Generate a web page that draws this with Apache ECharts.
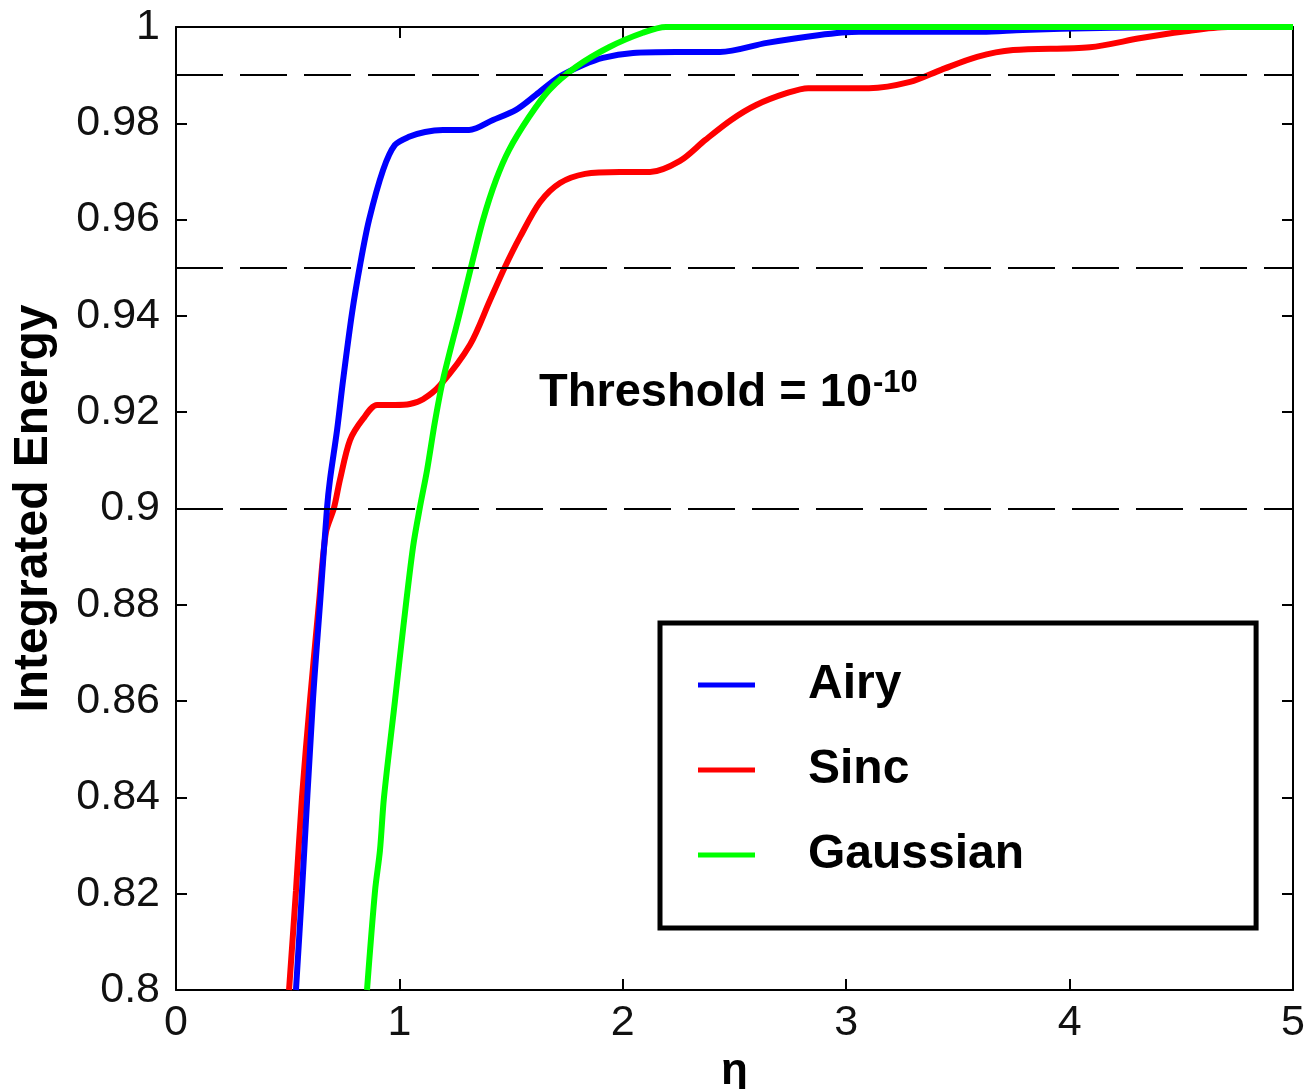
<!DOCTYPE html>
<html><head><meta charset="utf-8">
<script src="https://cdn.jsdelivr.net/npm/echarts@6/dist/echarts.min.js"></script>
<style>html,body{margin:0;padding:0;background:#fff;overflow:hidden}#c{width:1304px;height:1089px}</style>
</head><body><div id="c"></div>
<script>
// Data
const seriesNames = ['Airy', 'Sinc', 'Gaussian'];
const airyEta = [0.537,0.564,0.613,0.645,0.676,0.689,0.721,0.748,0.788,0.824,0.864,0.927,0.980,1.043,1.115,1.195,1.312,1.419,1.522,1.611,1.714,1.822,1.911,2.046,2.238,2.435,2.645,2.874,3.057,3.608,3.791,4.136,4.458,5.0];
const airyVal = [0.800,0.8206,0.8602,0.8804,0.9001,0.9059,0.9163,0.9267,0.9406,0.9506,0.9599,0.9703,0.9755,0.9772,0.9782,0.9786,0.9786,0.9807,0.9828,0.9859,0.9896,0.9921,0.9936,0.9946,0.9948,0.9948,0.9967,0.9983,0.9990,0.9990,0.9994,0.9998,1.0,1.0];
const sincEta = [0.506,0.537,0.564,0.600,0.640,0.671,0.707,0.734,0.779,0.837,0.900,0.980,1.047,1.106,1.182,1.316,1.406,1.473,1.540,1.629,1.719,1.831,1.987,2.122,2.256,2.368,2.485,2.597,2.736,2.830,3.102,3.286,3.425,3.586,3.747,4.091,4.320,4.503,4.709,5.0];
const sincVal = [0.800,0.8206,0.8401,0.8602,0.8804,0.8950,0.9001,0.9060,0.9142,0.9186,0.9215,0.9215,0.9217,0.9227,0.9256,0.9340,0.9433,0.9502,0.9564,0.9636,0.9676,0.9695,0.9699,0.9699,0.9722,0.9765,0.9807,0.9838,0.9863,0.9873,0.9873,0.9886,0.9911,0.9938,0.9952,0.9958,0.9977,0.9990,1.0,1.0];
const gaussEta = [0.855,0.891,0.913,0.931,0.980,1.016,1.061,1.092,1.124,1.159,1.195,1.267,1.320,1.374,1.432,1.491,1.580,1.670,1.790,1.938,2.090,2.193,5.0];
const gaussVal = [0.800,0.8206,0.829,0.840,0.860,0.8748,0.892,0.9003,0.908,0.918,0.9267,0.940,0.950,0.9599,0.9682,0.9745,0.9813,0.9869,0.9917,0.9958,0.9988,1.0,1.0];
const thresholdLines = [0.99, 0.95, 0.9];
const colors = ['#0000ff', '#ff0000', '#00ff00'];

const zip = (a, b) => a.map((v, i) => [v, b[i]]);
const FONT = 'Liberation Sans, Arial, sans-serif';
const chart = echarts.init(document.getElementById('c'), null, {renderer: 'canvas', width: 1304, height: 1089});

const axisLine = {show: true, onZero: false, lineStyle: {color: '#000', width: 2}};
const tick = {show: true, inside: true, length: 11, lineStyle: {color: '#000', width: 2}};

function lineSeries(name, eta, val, color, z) {
  return {
    name, type: 'line', data: zip(eta, val), showSymbol: false, symbol: 'none',
    smooth: 0.3, z,
    lineStyle: {color, width: 6}, itemStyle: {color}, clip: false
  };
}

chart.setOption({
  animation: false,
  backgroundColor: '#fff',
  grid: {left: 176, top: 27, width: 1117, height: 963, containLabel: false, outerBoundsMode: 'none'},
  xAxis: [
    {type: 'value', min: 0, max: 5, interval: 1, position: 'bottom',
     axisLine, axisTick: tick, splitLine: {show: false},
     axisLabel: {fontSize: 43, color: '#111', margin: 12, fontFamily: FONT},
     name: 'η', nameLocation: 'middle', nameGap: 41,
     nameTextStyle: {fontSize: 44, fontWeight: 'bold', color: '#000', fontFamily: FONT}},
    {type: 'value', min: 0, max: 5, interval: 1, position: 'top',
     axisLine, axisTick: tick, splitLine: {show: false}, axisLabel: {show: false}}
  ],
  yAxis: [
    {type: 'value', min: 0.8, max: 1, interval: 0.02, position: 'left',
     axisLine, axisTick: tick, splitLine: {show: false},
     axisLabel: {fontSize: 43, color: '#111', margin: 16, fontFamily: FONT},
     name: 'Integrated Energy', nameLocation: 'middle', nameGap: 118,
     nameTextStyle: {fontSize: 48, fontWeight: 'bold', color: '#000', fontFamily: FONT}},
    {type: 'value', min: 0.8, max: 1, interval: 0.02, position: 'right',
     axisLine, axisTick: tick, splitLine: {show: false}, axisLabel: {show: false}}
  ],
  legend: {
    data: seriesNames, orient: 'vertical', left: 660, top: 623,
    icon: 'rect', itemWidth: 57, itemHeight: 5, itemGap: 35,
    selectedMode: false,
    borderColor: '#000', borderWidth: 5, borderRadius: 0,
    padding: [37, 232, 48, 38],
    textStyle: {fontSize: 48, fontWeight: 'bold', color: '#000', fontFamily: FONT,
                lineHeight: 50, padding: [0, 0, 0, 48]}
  },
  graphic: [{
    type: 'text', left: 539, top: 368, z: 100,
    style: {
      text: '{a|Threshold = 10}{b|-10}',
      rich: {
        a: {fontSize: 47, fontWeight: 'bold', fontFamily: FONT, fill: '#000', lineHeight: 50},
        b: {fontSize: 31, fontWeight: 'bold', fontFamily: FONT, fill: '#000', verticalAlign: 'top', lineHeight: 50, padding: [0, 0, 24, 1]}
      }
    }
  }],
  series: [
    lineSeries('Airy', airyEta, airyVal, colors[0], 3),
    lineSeries('Sinc', sincEta, sincVal, colors[1], 2),
    lineSeries('Gaussian', gaussEta, gaussVal, colors[2], 4),
    {
      name: 'thresholds', type: 'line', data: [], z: 10,
      markLine: {
        silent: true, symbol: ['none', 'none'], label: {show: false},
        lineStyle: {color: '#000', width: 2, type: [47, 17]},
        data: thresholdLines.map(v => ({yAxis: v}))
      }
    }
  ]
});
</script>
</body></html>
